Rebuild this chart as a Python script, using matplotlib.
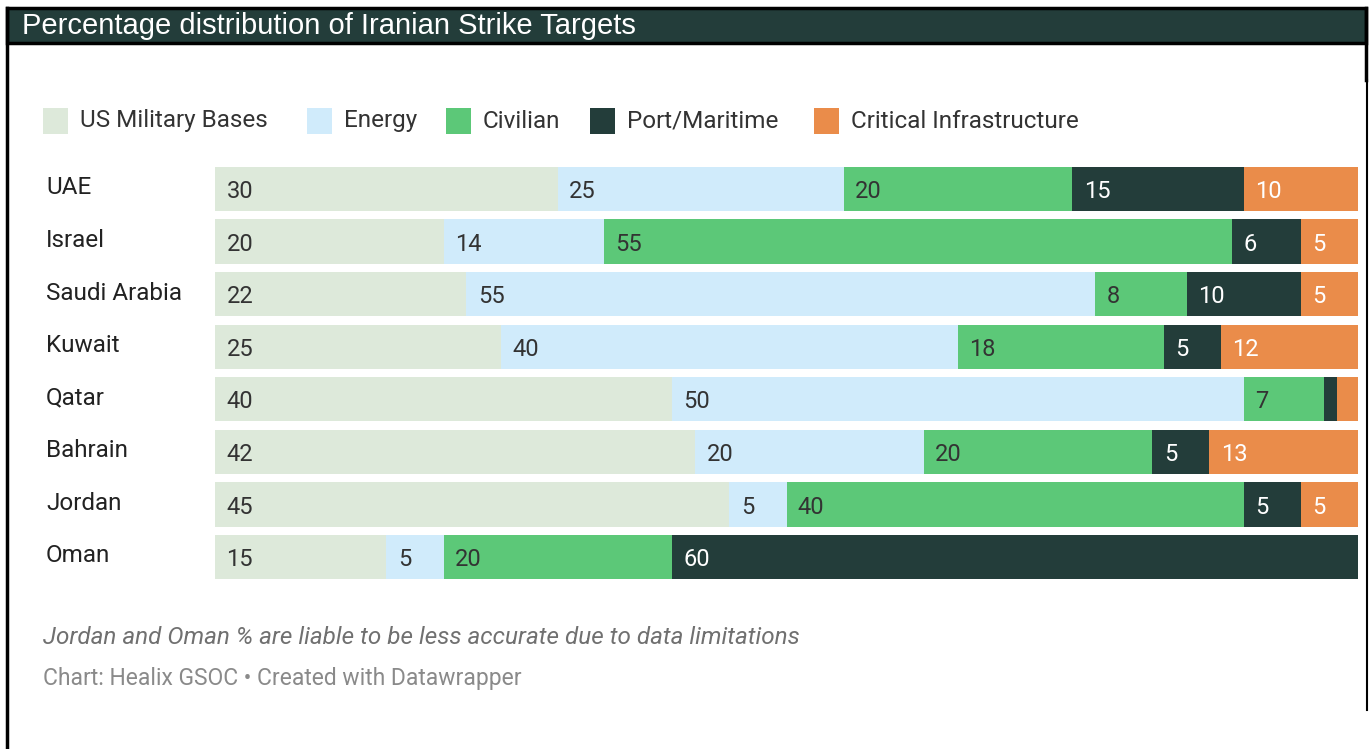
import matplotlib.pyplot as plt
import matplotlib.lines as mlines
import matplotlib.patches as mpatches
import numpy as np

# data (percent shares, each row sums to 100)
countries = ['UAE', 'Israel', 'Saudi Arabia', 'Kuwait', 'Qatar', 'Bahrain', 'Jordan', 'Oman']
categories = ['US Military Bases', 'Energy', 'Civilian', 'Port/Maritime', 'Critical Infrastructure']
us_bases = [30, 20, 22, 25, 40, 42, 45, 15]
energy = [25, 14, 55, 40, 50, 20, 5, 5]
civilian = [20, 55, 8, 18, 7, 20, 40, 20]
port = [15, 6, 10, 5, 1.2, 5, 5, 60]
critical = [10, 5, 5, 12, 1.8, 13, 5, 0]

colors = ['#dde9da', '#d0ebfb', '#5cc878', '#233d3a', '#ea8c4a']
text_colors = ['#333333', '#333333', '#333333', '#ffffff', '#ffffff']

W, H = 1370, 749
fig = plt.figure(figsize=(W / 100, H / 100), dpi=100)
fig.patch.set_facecolor('white')

def fx(px):
    return px / W

def fy(py):
    return 1 - py / H

# title bar
fig.patches.append(mpatches.Rectangle((fx(7), fy(43)), fx(1366) - fx(7), fy(8) - fy(43),
                                      transform=fig.transFigure, facecolor='#233d3a',
                                      edgecolor='black', linewidth=2.5))
fig.text(fx(22), fy(26), 'Percentage distribution of Iranian Strike Targets', color='white',
         fontsize=21, family='Liberation Sans', va='center', ha='left')
# frame lines
fig.add_artist(mlines.Line2D([fx(7), fx(7)], [fy(8), 0], color='black', lw=2.5,
                             transform=fig.transFigure))
fig.add_artist(mlines.Line2D([fx(1366), fx(1366)], [fy(8), fy(80)], color='black', lw=2.5,
                             transform=fig.transFigure))
fig.add_artist(mlines.Line2D([fx(1367), fx(1367)], [fy(80), fy(710)], color='black', lw=1.5,
                             transform=fig.transFigure))

# legend
leg_x = [43, 307, 446, 590, 814]
for i, cat in enumerate(categories):
    fig.patches.append(mpatches.Rectangle((fx(leg_x[i]), fy(134)), fx(25), fy(0) - fy(26),
                                          transform=fig.transFigure, facecolor=colors[i],
                                          edgecolor='none'))
    fig.text(fx(leg_x[i] + 37), fy(121), cat, fontsize=17.5, family='Roboto',
             color='#333333', va='center', ha='left')

# bars
step = (557 - 189) / 7
top = 189 - step / 2
bottom = 557 + step / 2
ax = fig.add_axes([fx(215), fy(bottom), fx(1358) - fx(215), (bottom - top) / H])
series = [us_bases, energy, civilian, port, critical]
y = np.arange(len(countries))
left = np.zeros(len(countries))
for s, vals in enumerate(series):
    vals = np.array(vals, dtype=float)
    ax.barh(y, vals, left=left, height=0.84, color=colors[s], edgecolor='none')
    for i, v in enumerate(vals):
        if v >= 3:
            ax.text(left[i] + 1.0, y[i] + 0.05, f'{v:g}', va='center', ha='left',
                    fontsize=17, family='Roboto', color=text_colors[s])
    left += vals

ax.set_xlim(0, 100)
ax.set_ylim(len(countries) - 0.5, -0.5)
ax.axis('off')
for i, c in enumerate(countries):
    ax.text((46 - 215) / 1143, y[i] - 0.02, c, transform=ax.get_yaxis_transform(),
            va='center', ha='left', fontsize=17.5, family='Roboto', color='#222222')

# notes
fig.text(fx(43), fy(638), 'Jordan and Oman % are liable to be less accurate due to data limitations',
         fontsize=17.5, family='Roboto', style='italic', color='#707070', va='center', ha='left')
fig.text(fx(43), fy(679), 'Chart: Healix GSOC \u2022 Created with Datawrapper',
         fontsize=16.5, family='Roboto', color='#8a8a8a', va='center', ha='left')

fig.savefig('out.png', dpi=100)
